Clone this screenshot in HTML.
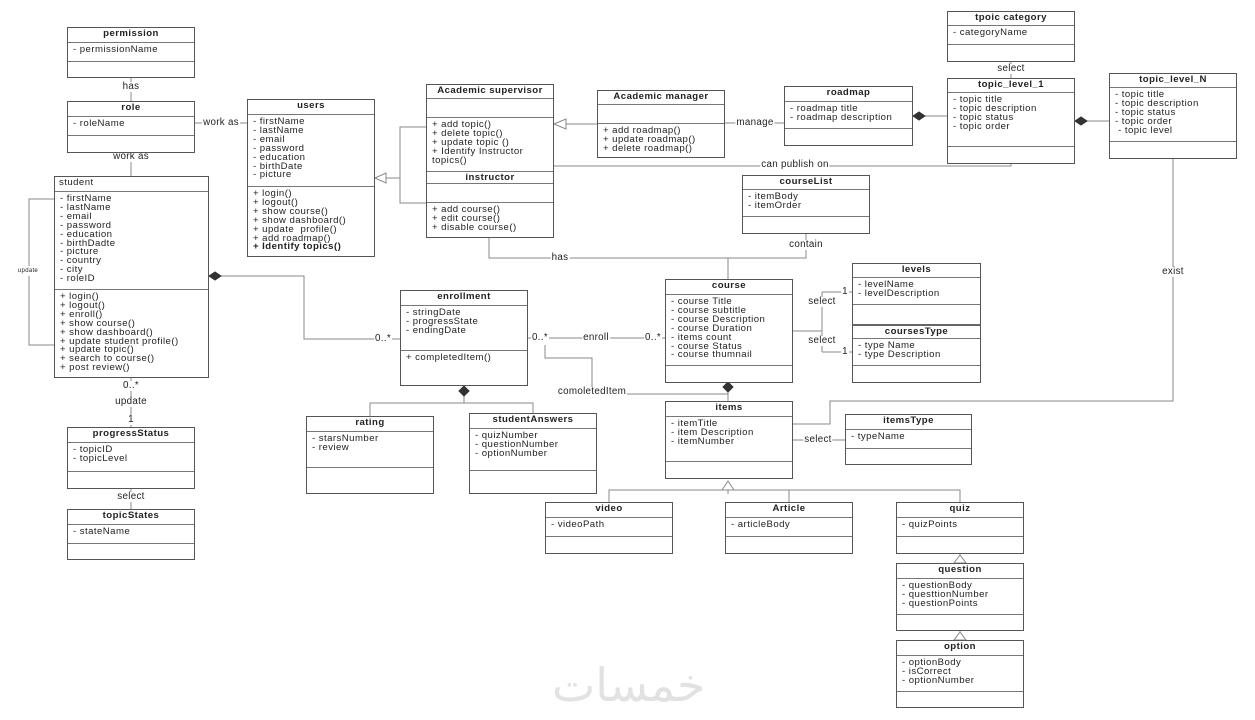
<!DOCTYPE html>
<html><head><meta charset="utf-8"><style>
body{margin:0;width:1255px;height:720px;background:#fff;position:relative;overflow:hidden;font-family:"Liberation Sans",Arial,sans-serif;color:#222}
.b{position:absolute;border:1px solid #555;background:#fff;box-sizing:border-box}
.b>div{box-sizing:border-box;border-top:1px solid #777;font-size:9.6px;letter-spacing:0.45px;line-height:8.9px;padding:3px 0 0 5px;white-space:pre;overflow:hidden}
.b>div.h{border-top:none;font-weight:bold;text-align:center;padding:2px 0 0 0;font-size:9.6px}
.b>div.hl{border-top:none;text-align:left;padding:2px 0 0 4px}
.b>div.hh{font-weight:bold;text-align:center;padding:2px 0 0 0}
svg{position:absolute;left:0;top:0}
.l{position:absolute;font-size:9.8px;letter-spacing:0.3px;background:#fff;line-height:10px;padding:0 1px;transform:translate(-50%,-50%);white-space:nowrap}
</style></head><body>
<svg width="1255" height="720" fill="none" stroke="#8a8a8a" stroke-width="1">
<path d="M131 78V101M195 123H247M131 153V176"/>
<path d="M54 199H29V345H54"/>
<path d="M209 276H304V339H400"/>
<path d="M131 378V427M131 489V509"/>
<path d="M426 127H400V203H426M400 178H385"/>
<path d="M597 124H566"/>
<path d="M725 123H784M913 116H947M1075 121H1109M1011 62V78"/>
<path d="M554 166H1011V164"/>
<path d="M489 238V258H728V279M806 234V258H728"/>
<path d="M793 331H822M822 292V352M822 292H852M822 352H852"/>
<path d="M528 338H665"/>
<path d="M545 345V358H592V394H728V401"/>
<path d="M728 391V401"/>
<path d="M464 396V403H370V416M464 403H533V413"/>
<path d="M793 440H845"/>
<path d="M793 424H830V401H1173V159"/>
<path d="M728 490V494M609 502V490H960V502M789 490V502"/>
<path d="M960 554V563M960 631V640"/>
<g fill="#fff" stroke="#888">
<path d="M375 178L386 173V183Z"/>
<path d="M554 124L566 119V129Z"/>
<path d="M728 481L722 490H734Z"/>
<path d="M960 555L954 563H966Z"/>
<path d="M960 632L954 640H966Z"/>
</g>
<g fill="#333" stroke="#333">
<path d="M209 276L215 272L221 276L215 280Z"/>
<path d="M913 116L919 112L925 116L919 120Z"/>
<path d="M1075 121L1081 117L1087 121L1081 125Z"/>
<path d="M464 386L469 391L464 396L459 391Z"/>
<path d="M728 382L733 387L728 392L723 387Z"/>
</g>
</svg>

<div class="l" style="left:131px;top:87px">has</div>
<div class="l" style="left:221px;top:123px">work as</div>
<div class="l" style="left:131px;top:157px">work as</div>
<div class="l" style="left:28px;top:271px;font-size:6px">update</div>
<div class="l" style="left:383px;top:339px">0..*</div>
<div class="l" style="left:131px;top:386px">0..*</div>
<div class="l" style="left:131px;top:402px">update</div>
<div class="l" style="left:131px;top:420px">1</div>
<div class="l" style="left:131px;top:497px">select</div>
<div class="l" style="left:755px;top:123px">manage</div>
<div class="l" style="left:1011px;top:69px">select</div>
<div class="l" style="left:795px;top:165px">can publish on</div>
<div class="l" style="left:560px;top:258px">has</div>
<div class="l" style="left:806px;top:245px">contain</div>
<div class="l" style="left:822px;top:302px">select</div>
<div class="l" style="left:822px;top:341px">select</div>
<div class="l" style="left:845px;top:292px">1</div>
<div class="l" style="left:845px;top:352px">1</div>
<div class="l" style="left:540px;top:338px">0..*</div>
<div class="l" style="left:596px;top:338px">enroll</div>
<div class="l" style="left:653px;top:338px">0..*</div>
<div class="l" style="left:592px;top:392px">comoletedItem</div>
<div class="l" style="left:818px;top:440px">select</div>
<div class="l" style="left:1173px;top:272px">exist</div>
<div style="position:absolute;left:552px;top:658px;font-size:46px;color:#e2e2e2;font-family:'DejaVu Sans',sans-serif">خمسات</div>

<div class="b" style="left:67px;top:27px;width:128px;height:51px"><div class="h" style="height:14px">permission</div><div style="height:19px">- permissionName</div><div style="height:16px"></div></div>
<div class="b" style="left:67px;top:101px;width:128px;height:52px"><div class="h" style="height:14px">role</div><div style="height:19px">- roleName</div><div style="height:17px"></div></div>
<div class="b" style="left:247px;top:99px;width:128px;height:158px"><div class="h" style="height:14px">users</div><div style="height:72px">- firstName
- lastName
- email
- password
- education
- birthDate
- picture</div><div style="height:70px">+ login()
+ logout()
+ show course()
+ show dashboard()
+ update  profile()
+ add roadmap()
<b>+ Identify topics()</b></div></div>
<div class="b" style="left:54px;top:176px;width:155px;height:202px"><div class="hl" style="height:14px">student</div><div style="height:98px">- firstName
- lastName
- email
- password
- education
- birthDadte
- picture
- country
- city
- roleID</div><div style="height:88px">+ login()
+ logout()
+ enroll()
+ show course()
+ show dashboard()
+ update student profile()
+ update topic()
+ search to course()
+ post review()</div></div>
<div class="b" style="left:426px;top:84px;width:128px;height:154px"><div class="h" style="height:13px">Academic supervisor</div><div style="height:19px"></div><div style="height:54px">+ add topic()
+ delete topic()
+ update topic ()
+ Identify Instructor
topics()</div><div class="hh" style="height:12px">instructor</div><div style="height:19px"></div><div style="height:35px">+ add course()
+ edit course()
+ disable course()</div></div>
<div class="b" style="left:597px;top:90px;width:128px;height:68px"><div class="h" style="height:13px">Academic manager</div><div style="height:19px"></div><div style="height:34px">+ add roadmap()
+ update roadmap()
+ delete roadmap()</div></div>
<div class="b" style="left:784px;top:86px;width:129px;height:60px"><div class="h" style="height:14px">roadmap</div><div style="height:27px">- roadmap title
- roadmap description</div><div style="height:17px"></div></div>
<div class="b" style="left:947px;top:11px;width:128px;height:51px"><div class="h" style="height:13px">tpoic category</div><div style="height:19px">- categoryName</div><div style="height:17px"></div></div>
<div class="b" style="left:947px;top:78px;width:128px;height:86px"><div class="h" style="height:13px">topic_level_1</div><div style="height:54px">- topic title
- topic description
- topic status
- topic order</div><div style="height:17px"></div></div>
<div class="b" style="left:1109px;top:73px;width:128px;height:86px"><div class="h" style="height:13px">topic_level_N</div><div style="height:54px">- topic title
- topic description
- topic status
- topic order
 - topic level</div><div style="height:17px"></div></div>
<div class="b" style="left:742px;top:175px;width:128px;height:59px"><div class="h" style="height:13px">courseList</div><div style="height:27px">- itemBody
- itemOrder</div><div style="height:17px"></div></div>
<div class="b" style="left:852px;top:263px;width:129px;height:120px"><div class="h" style="height:13px">levels</div><div style="height:27px">- levelName
- levelDescription</div><div style="height:20px"></div><div class="hh" style="height:14px;border-top:2px solid #666">coursesType</div><div style="height:27px">- type Name
- type Description</div><div style="height:17px"></div></div>
<div class="b" style="left:665px;top:279px;width:128px;height:104px"><div class="h" style="height:14px">course</div><div style="height:71px">- course Title
- course subtitle
- course Description
- course Duration
- items count
- course Status
- course thumnail</div><div style="height:17px"></div></div>
<div class="b" style="left:400px;top:290px;width:128px;height:96px"><div class="h" style="height:14px">enrollment</div><div style="height:45px">- stringDate
- progressState
- endingDate</div><div style="height:35px">+ completedItem()</div></div>
<div class="b" style="left:306px;top:416px;width:128px;height:78px"><div class="h" style="height:14px">rating</div><div style="height:36px">- starsNumber
- review</div><div style="height:26px"></div></div>
<div class="b" style="left:469px;top:413px;width:128px;height:81px"><div class="h" style="height:14px">studentAnswers</div><div style="height:42px">- quizNumber
- questionNumber
- optionNumber</div><div style="height:23px"></div></div>
<div class="b" style="left:665px;top:401px;width:128px;height:78px"><div class="h" style="height:14px">items</div><div style="height:45px">- itemTitle
- item Description
- itemNumber</div><div style="height:17px"></div></div>
<div class="b" style="left:845px;top:414px;width:127px;height:51px"><div class="h" style="height:14px">itemsType</div><div style="height:19px">- typeName</div><div style="height:16px"></div></div>
<div class="b" style="left:67px;top:427px;width:128px;height:62px"><div class="h" style="height:14px">progressStatus</div><div style="height:29px">- topicID
- topicLevel</div><div style="height:17px"></div></div>
<div class="b" style="left:67px;top:509px;width:128px;height:51px"><div class="h" style="height:14px">topicStates</div><div style="height:19px">- stateName</div><div style="height:16px"></div></div>
<div class="b" style="left:545px;top:502px;width:128px;height:52px"><div class="h" style="height:14px">video</div><div style="height:19px">- videoPath</div><div style="height:17px"></div></div>
<div class="b" style="left:725px;top:502px;width:128px;height:52px"><div class="h" style="height:14px">Article</div><div style="height:19px">- articleBody</div><div style="height:17px"></div></div>
<div class="b" style="left:896px;top:502px;width:128px;height:52px"><div class="h" style="height:14px">quiz</div><div style="height:19px">- quizPoints</div><div style="height:17px"></div></div>
<div class="b" style="left:896px;top:563px;width:128px;height:68px"><div class="h" style="height:14px">question</div><div style="height:36px">- questionBody
- questtionNumber
- questionPoints</div><div style="height:16px"></div></div>
<div class="b" style="left:896px;top:640px;width:128px;height:68px"><div class="h" style="height:14px">option</div><div style="height:36px">- optionBody
- isCorrect
- optionNumber</div><div style="height:16px"></div></div>
</body></html>
